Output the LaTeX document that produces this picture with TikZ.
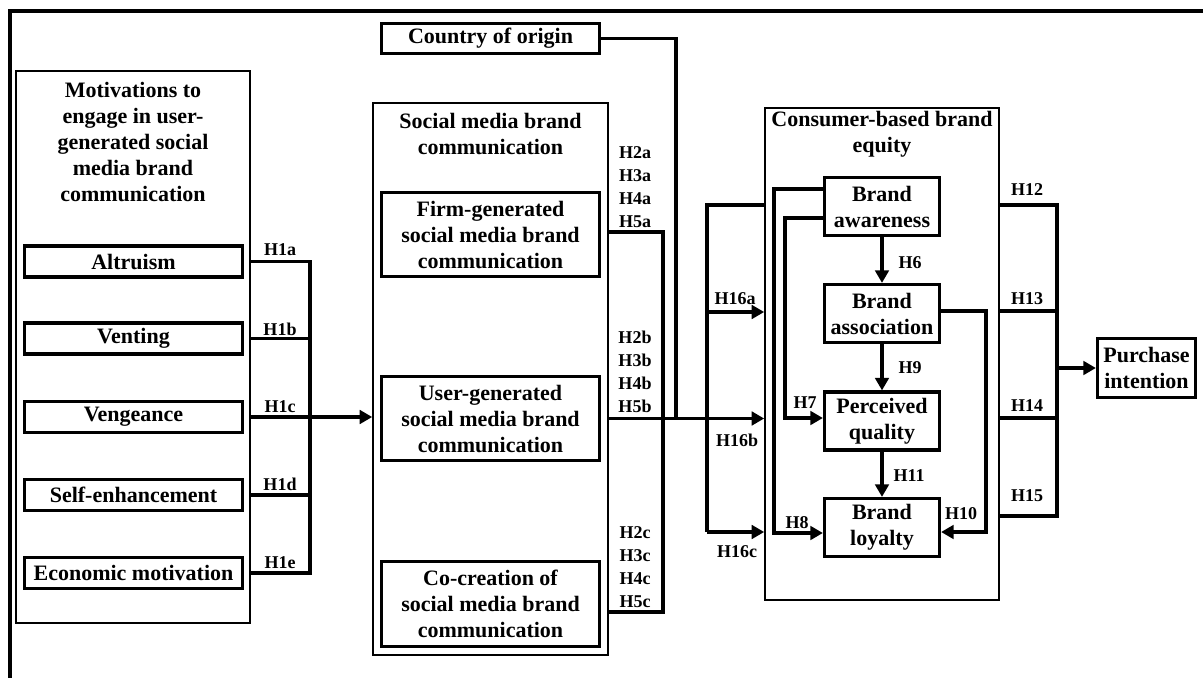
\documentclass[tikz,border=0pt]{standalone}
\usepackage{fontspec}
\setmainfont{Liberation Serif}
\usetikzlibrary{arrows.meta}
\begin{document}
\begin{tikzpicture}[x=1pt,y=-1pt,
  every node/.style={font=\bfseries\fontsize{22}{26}\selectfont, inner sep=0pt, align=center},
  cont/.style={draw, line width=1.6pt},
  box/.style={draw, line width=3.2pt},
  conn/.style={line width=3.2pt},
  arr/.style={line width=3.2pt, -{Triangle[length=12.5pt,width=13.5pt]}},
  lab/.style={font=\bfseries\fontsize{18}{23}\selectfont, align=center},
]
\useasboundingbox (0,0) rectangle (1203,678);

% outer frame (top and left edges only)
\draw[line width=3.5pt] (1203,11) -- (10,11) -- (10,678);

% ---------- motivations ----------
\node[cont, minimum width=234pt, minimum height=552pt] (motiv) at (133,347) {};
\node (motivt) at (133,142) {Motivations to\\engage in user-\\generated social\\media brand\\communication};
\node[box, minimum width=218pt, minimum height=31pt] (altru) at (133.5,261.5) {Altruism};
\node[box, minimum width=218pt, minimum height=31pt] (vent) at (133.5,338.5) {Venting};
\node[box, minimum width=218pt, minimum height=31pt] (veng) at (133.5,417) {Vengeance};
\node[box, minimum width=218pt, minimum height=31pt] (self) at (133.5,495) {Self-enhancement};
\node[box, minimum width=218pt, minimum height=31pt] (econ) at (133.5,573) {Economic motivation};

% ---------- social media brand communication ----------
\node[box, minimum width=218pt, minimum height=30pt] (coo) at (490.5,38.5) {Country of origin};
\node[cont, minimum width=235pt, minimum height=552pt] (smc) at (490.5,379) {};
\node (smct) at (490.5,133.5) {Social media brand\\communication};
\node[box, minimum width=218pt, minimum height=84pt] (firm) at (490.5,234.5) {Firm-generated\\social media brand\\communication};
\node[box, minimum width=218pt, minimum height=84pt] (usr) at (490.5,418.5) {User-generated\\social media brand\\communication};
\node[box, minimum width=218pt, minimum height=85pt] (cocr) at (490.5,604) {Co-creation of\\social media brand\\communication};

% ---------- consumer-based brand equity ----------
\node[cont, minimum width=234pt, minimum height=492pt] (cbbe) at (882,354) {};
\node (cbbet) at (882,134.5) {Consumer-based brand\\equity};
\node[box, minimum width=115pt, minimum height=58pt] (aw) at (882,206.5) {Brand\\awareness};
\node[box, minimum width=115pt, minimum height=58pt] (as) at (882,313.5) {Brand\\association};
\node[box, minimum width=115pt, minimum height=58pt] (pq) at (882,421) {Perceived\\quality};
\node[box, minimum width=115pt, minimum height=58pt] (bl) at (882,527.5) {Brand\\loyalty};

\node[box, minimum width=98pt, minimum height=59pt] (pi) at (1146.5,368) {Purchase\\intention};

% ---------- junction points ----------
\coordinate (mj) at (310,0);
\coordinate (cj) at (676,0);
\coordinate (fj) at (663,232);
\coordinate (kj) at (663,612);
\coordinate (q1) at (707,205);
\coordinate (q2) at (707,312);
\coordinate (q3) at (707,532);
\coordinate (k7) at (785,218);
\coordinate (k7b) at (785,418);
\coordinate (k8) at (774,189);
\coordinate (k8b) at (774,533);
\coordinate (k10) at (986,311);
\coordinate (k10b) at (986,532);
\coordinate (r1) at (1057,205);
\coordinate (r2) at (1057,311);
\coordinate (r3) at (1057,418);
\coordinate (r4) at (1057,516);

% ---------- connectors: motivations ----------
\draw[conn] (motiv.east |- altru) -- (mj |- altru) -- (mj |- econ) -- (motiv.east |- econ);
\draw[conn] (motiv.east |- vent) -- (mj |- vent);
\draw[conn] (motiv.east |- self) -- (mj |- self);
\draw[arr] (motiv.east |- veng) -- (smc.west |- veng);

% ---------- connectors: brand communication ----------
\draw[conn] (coo.east) -| (cj |- usr);
\draw[conn] (smc.east |- fj) -- (fj) -- (kj) -- (smc.east |- kj);
\draw[arr] (smc.east |- usr) -- (cbbe.west |- usr);
\draw[conn] (cbbe.west |- q1) -- (q1) -- (q3);
\draw[arr] (q2) -- (cbbe.west |- q2);
\draw[arr] (q3) -- (cbbe.west |- q3);

% ---------- connectors: brand equity ----------
\draw[arr] (aw) -- (as);
\draw[arr] (as) -- (pq);
\draw[arr] (pq) -- (bl);
\draw[arr] (aw.west |- k7) -- (k7) -- (k7b) -- (pq.west |- k7b);
\draw[arr] (aw.west |- k8) -- (k8) -- (k8b) -- (bl.west |- k8b);
\draw[arr] (as.east |- k10) -- (k10) -- (k10b) -- (bl.east |- k10b);

% ---------- connectors: purchase intention ----------
\draw[conn] (cbbe.east |- r1) -- (r1) -- (r4) -- (cbbe.east |- r4);
\draw[conn] (cbbe.east |- r2) -- (r2);
\draw[conn] (cbbe.east |- r3) -- (r3);
\draw[arr] (r1 |- pi) -- (pi.west);

% ---------- hypothesis labels ----------
\node[lab] (h1a) at (280,250) {H1a};
\node[lab] (h1b) at (280,329) {H1b};
\node[lab] (h1c) at (280,407) {H1c};
\node[lab] (h1d) at (280,484) {H1d};
\node[lab] (h1e) at (280,563) {H1e};
\node[lab] (hxa) at (635,187.5) {H2a\\H3a\\H4a\\H5a};
\node[lab] (hxb) at (635,372) {H2b\\H3b\\H4b\\H5b};
\node[lab] (hxc) at (635,567.5) {H2c\\H3c\\H4c\\H5c};
\node[lab] (h16a) at (735,299) {H16a};
\node[lab] (h16b) at (737,440) {H16b};
\node[lab] (h16c) at (737,552) {H16c};
\node[lab] (h6) at (910,263) {H6};
\node[lab] (h9) at (910,368) {H9};
\node[lab] (h11) at (909,476) {H11};
\node[lab] (h7) at (805,403) {H7};
\node[lab] (h8) at (797,523) {H8};
\node[lab] (h10) at (961,514) {H10};
\node[lab] (h12) at (1027,190) {H12};
\node[lab] (h13) at (1027,299) {H13};
\node[lab] (h14) at (1027,406) {H14};
\node[lab] (h15) at (1027,496) {H15};
\end{tikzpicture}
\end{document}
